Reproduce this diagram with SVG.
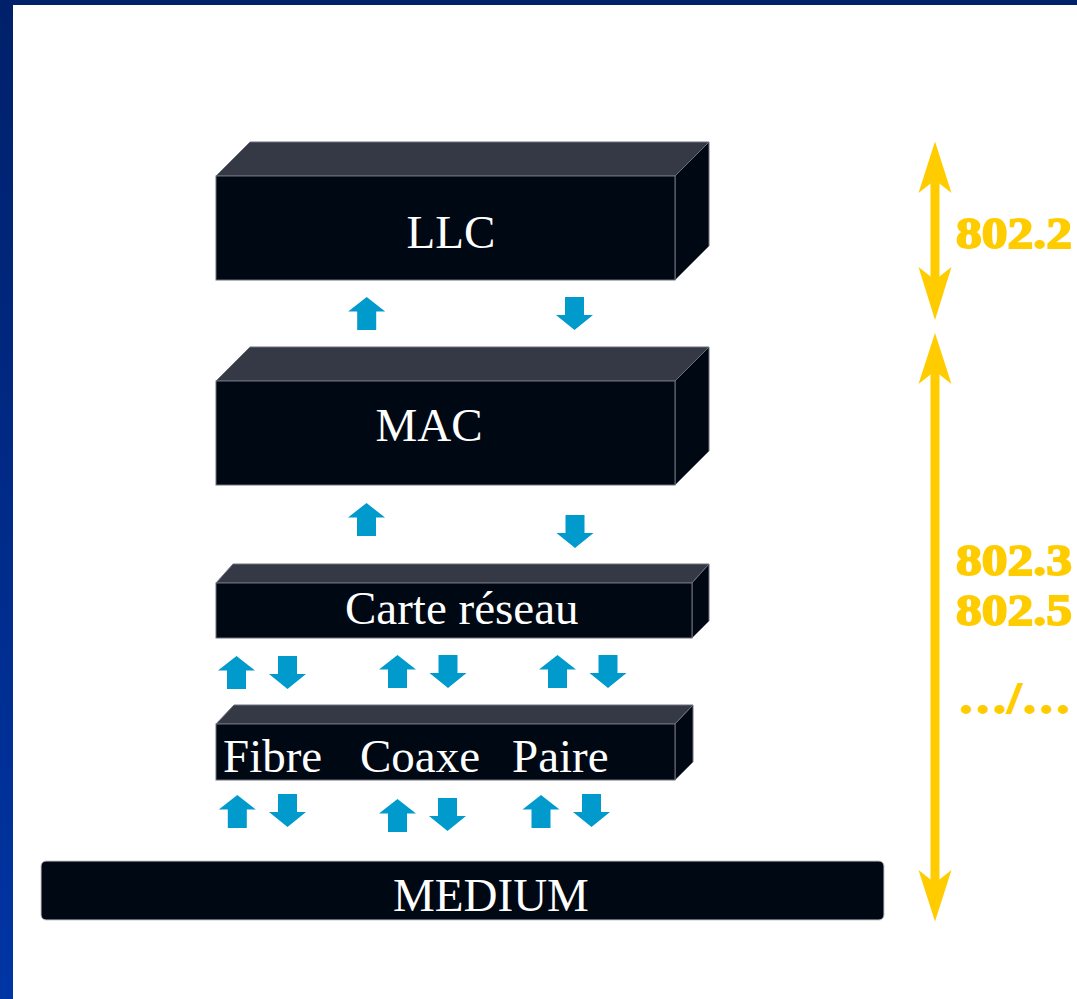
<svg xmlns="http://www.w3.org/2000/svg" width="1077" height="999" viewBox="0 0 1077 999">
<style>
.front{fill:#000814;stroke:#6e717c;stroke-width:1}
.top{fill:#353945;stroke:#6e717c;stroke-width:1}
.lbl{font-family:"Liberation Serif","Times New Roman",serif;font-size:47px;fill:#ffffff}
.std{font-family:"Liberation Serif","Times New Roman",serif;font-size:45px;font-weight:700;fill:#ffcc00;stroke:#ffcc00;stroke-width:1.8}
.ba{fill:#009acd}
.ya{fill:#ffcc00}
</style>
<defs>
<linearGradient id="lb" x1="0" y1="0" x2="0" y2="1">
<stop offset="0" stop-color="#00206a"/>
<stop offset="1" stop-color="#0035a5"/>
</linearGradient>
<path id="up" d="M0,0 L18.5,14.5 L9.5,14.5 L9.5,33 L-9.5,33 L-9.5,14.5 L-18.5,14.5Z"/>
<path id="dn" d="M-9.5,0 L9.5,0 L9.5,18 L18.5,18 L0,33 L-18.5,18 L-9.5,18Z"/>
</defs>
<rect x="0" y="0" width="1077" height="999" fill="#ffffff"/>
<rect x="0" y="0" width="1077" height="5" fill="#00226b"/>
<rect x="0" y="0" width="13" height="999" fill="url(#lb)"/>

<g id="llc">
<path class="top" d="M216,176 L250,142 L709,142 L675,176Z"/>
<path class="front" d="M675,176 L709,142 L709,246 L675,280Z"/>
<rect class="front" x="216" y="176" width="459" height="104"/>
<text class="lbl" x="451" y="248" text-anchor="middle">LLC</text>
</g>

<g id="mac">
<path class="top" d="M216,381 L250,347 L709,347 L675,381Z"/>
<path class="front" d="M675,381 L709,347 L709,451 L675,485Z"/>
<rect class="front" x="216" y="381" width="459" height="104"/>
<text class="lbl" x="429" y="441" text-anchor="middle">MAC</text>
</g>

<g id="carte">
<path class="top" d="M216,583 L233,564 L709,564 L692,583Z"/>
<path class="front" d="M692,583 L709,564 L709,621 L692,638Z"/>
<rect class="front" x="216" y="583" width="476" height="55"/>
<text class="lbl" x="345" y="624">Carte réseau</text>
</g>

<g id="support">
<path class="top" d="M216,724 L234,705 L693,705 L675,724Z"/>
<path class="front" d="M675,724 L693,705 L693,762 L675,780Z"/>
<rect class="front" x="216" y="724" width="459" height="56"/>
<text class="lbl" x="223" y="772">Fibre</text>
<text class="lbl" x="360" y="772">Coaxe</text>
<text class="lbl" x="512" y="772">Paire</text>
</g>

<g id="medium">
<rect x="41" y="861" width="843" height="59" rx="5" fill="#000814" stroke="#c8c9cc" stroke-width="1"/>
<text class="lbl" x="491" y="911" text-anchor="middle">MEDIUM</text>
</g>

<g id="connectors">
<use href="#up" class="ba" x="366.7" y="297"/>
<use href="#dn" class="ba" x="574.5" y="297"/>
<use href="#up" class="ba" x="366.5" y="503"/>
<use href="#dn" class="ba" x="575" y="515"/>
<use href="#up" class="ba" x="236.5" y="656"/>
<use href="#dn" class="ba" x="287.5" y="656"/>
<use href="#up" class="ba" x="397.5" y="655"/>
<use href="#dn" class="ba" x="448" y="655"/>
<use href="#up" class="ba" x="557.5" y="655"/>
<use href="#dn" class="ba" x="608" y="655"/>
<use href="#up" class="ba" x="237.3" y="795"/>
<use href="#dn" class="ba" x="287.5" y="794"/>
<use href="#up" class="ba" x="397.5" y="799"/>
<use href="#dn" class="ba" x="447.5" y="798"/>
<use href="#up" class="ba" x="541" y="795"/>
<use href="#dn" class="ba" x="591.5" y="794"/>

<rect class="ya" x="930.5" y="178" width="9" height="104"/>
<path class="ya" d="M935,141.5 L951.5,193 L935,180 L918.5,193Z"/>
<path class="ya" d="M935,320 L951.5,267 L935,280 L918.5,267Z"/>
<rect class="ya" x="930.5" y="369" width="9" height="516"/>
<path class="ya" d="M935,333 L951.5,384 L935,371 L918.5,384Z"/>
<path class="ya" d="M935,921.5 L951.5,870 L935,883 L918.5,870Z"/>
</g>

<g id="standards">
<text class="std" x="956" y="248" textLength="116" lengthAdjust="spacingAndGlyphs">802.2</text>
<text class="std" x="956" y="575" textLength="116" lengthAdjust="spacingAndGlyphs">802.3</text>
<text class="std" x="956" y="625" textLength="116" lengthAdjust="spacingAndGlyphs">802.5</text>
<text class="std" x="958" y="713" textLength="113" lengthAdjust="spacingAndGlyphs">…/…</text>
</g>
</svg>
